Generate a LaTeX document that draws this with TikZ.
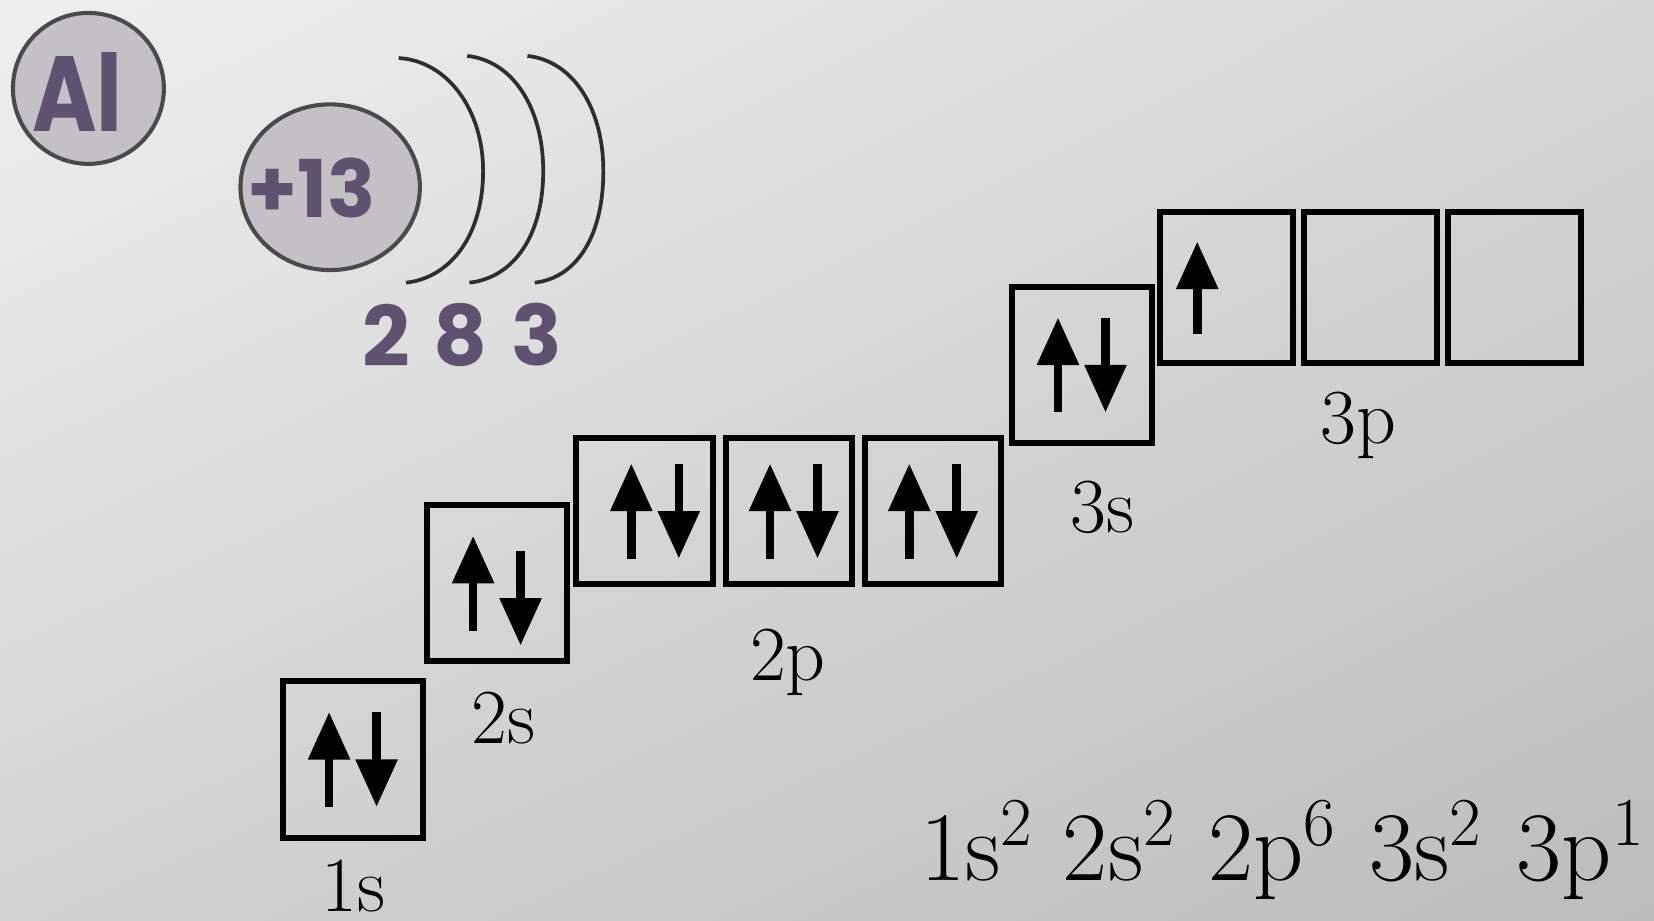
\documentclass[tikz,border=0pt]{standalone}
\usepackage{fontspec}
\newfontfamily\comicfont{Poppins}
\usetikzlibrary{arrows.meta,shapes.geometric,shadings}
\definecolor{bgtl}{HTML}{EFEFEF}
\definecolor{bgtr}{HTML}{D6D6D6}
\definecolor{bgbl}{HTML}{D2D2D2}
\definecolor{bgbr}{HTML}{BCBCBC}
\definecolor{atomfill}{HTML}{C4C1C6}
\definecolor{atomline}{HTML}{4A4A4A}
\definecolor{atomtext}{HTML}{5E5270}
\newcommand\supnum[1]{\raisebox{0.36em}{\fontsize{18.5}{20}\selectfont #1}}
\tikzset{
  orbbox/.style={draw=black, line width=1.6pt, inner sep=0pt, minimum width=1.33cm, minimum height=1.48cm},
  orbboxp/.style={orbbox, minimum height=1.39cm},
  orbboxq/.style={orbbox, minimum width=1.26cm, minimum height=1.43cm},
  spin/.style={line width=2.3pt, -{Triangle[length=0.45cm, width=0.38cm]}},
  orblabel/.style={inner sep=0pt, anchor=base, font=\fontsize{21}{24}\selectfont},
  comictxt/.style={inner sep=0pt, text=atomtext, font=\comicfont\bfseries},
  shell/.style={draw=black!82, line width=1pt}
}
\begin{document}
\begin{tikzpicture}[x=0.01cm,y=-0.01cm]
  \useasboundingbox (0,0) rectangle (1568,873);
  \shade[upper left=bgtl, upper right=bgtr, lower left=bgbl, lower right=bgbr] (0,0) rectangle (1568,873);
  % atom
  \node[circle, draw=atomline, fill=atomfill, line width=1.1pt, minimum size=1.43cm] (sym) at (83.8,83.8) {};
  \node[comictxt, xscale=0.82, font=\comicfont\bfseries\fontsize{28.8}{32}\selectfont] (symtxt) at (73.5,87) {Al};
  \node[ellipse, draw=atomline, fill=atomfill, line width=1.1pt, minimum width=1.70cm, minimum height=1.57cm] (nuc) at (313,177.5) {};
  \node[comictxt, font=\comicfont\bfseries\fontsize{21.5}{26}\selectfont] (charge) at (295,178.5) {+13};
  \draw[shell] (378,55) .. controls (425,58) and (458,105) .. (458,162) .. controls (458,222) and (428,263) .. (385,268);
  \draw[shell] (443,53) .. controls (488,58) and (515,105) .. (515,162) .. controls (515,222) and (488,263) .. (445,268);
  \draw[shell] (500,53) .. controls (545,58) and (572,105) .. (572,162) .. controls (572,222) and (548,263) .. (507,268);
  \node[comictxt, font=\comicfont\bfseries\fontsize{22.5}{26}\selectfont] (n1) at (366,317.5) {2};
  \node[comictxt, font=\comicfont\bfseries\fontsize{22.5}{26}\selectfont] (n2) at (437,317.5) {8};
  \node[comictxt, font=\comicfont\bfseries\fontsize{22.5}{26}\selectfont] (n3) at (509,317.5) {3};
  % orbital boxes
  \node[orbbox] (s1) at (334.5,720) {};
  \node[orbbox] (s2) at (471,552.5) {};
  \node[orbboxp, minimum width=1.30cm] (p2a) at (611,484.5) {};
  \node[orbboxp, minimum width=1.20cm] (p2b) at (748,484.5) {};
  \node[orbboxp, minimum width=1.29cm] (p2c) at (884.5,484.5) {};
  \node[orbbox] (s3) at (1025.5,346) {};
  \node[orbboxq] (p3a) at (1162.8,272.5) {};
  \node[orbboxq] (p3b) at (1298.9,272.5) {};
  \node[orbboxq] (p3c) at (1435.8,272.5) {};
  % electrons
  \foreach \b/\dx in {s1/0,p2a/10,p2b/4.5,p2c/0,s3/0} {
    \draw[spin] ([shift={(-22.5+\dx,45)}]\b.center) -- ++(0,-90);
    \draw[spin] ([shift={(22.5+\dx,-45)}]\b.center) -- ++(0,90);
  }
  \draw[spin] ([shift={(-22.5,45.5)}]s2.center) -- ++(0,-90);
  \draw[spin] ([shift={(22.5,-30.5)}]s2.center) -- ++(0,90);
  \draw[spin] ([shift={(-27.8,44.5)}]p3a.center) -- ++(0,-88);
  % labels
  \node[orblabel] (l1s) at (335,864) {1s};
  \node[orblabel] (l2s) at (477,705) {2s};
  \node[orblabel] (l2p) at (747,645) {2p};
  \node[orblabel] (l3s) at (1045,505) {3s};
  \node[orblabel] (l3p) at (1288,420) {3p};
  \node[inner sep=0pt, anchor=base west, font=\fontsize{26.5}{30}\selectfont] (config) at (872,835)
    {1s\supnum{2}\hspace{0.31em}2s\supnum{2}\hspace{0.34em}2p\supnum{6}\hspace{0.35em}3s\supnum{2}\hspace{0.36em}3p\supnum{1}};
\end{tikzpicture}
\end{document}
